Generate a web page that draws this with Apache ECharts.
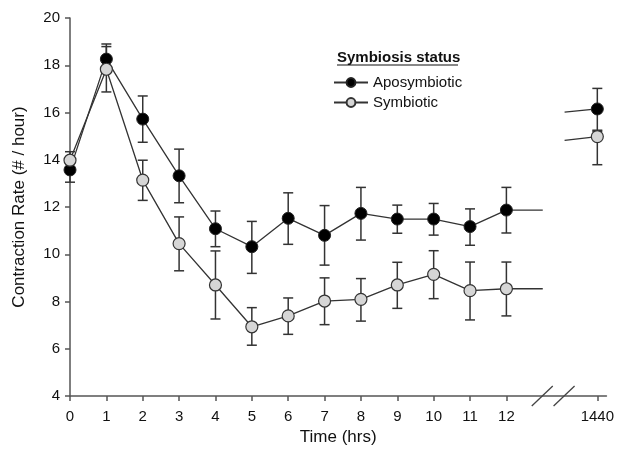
<!DOCTYPE html>
<html>
<head>
<meta charset="utf-8">
<script src="https://cdn.jsdelivr.net/npm/echarts@6/dist/echarts.min.js"></script>
<style>
	html, body { margin:0; padding:0; background:#fff; }
	#chart { width:617px; height:453px; }
</style>
</head>
<body>
<div id="chart"></div>
<script>
	// time points (hrs); 1440 sits after the axis break
	const hours = [0, 1, 2, 3, 4, 5, 6, 7, 8, 9, 10, 11, 12, 1440];
	const tickHours = [0, 1, 2, 3, 4, 5, 6, 7, 8, 9, 10, 11, 12, 1440];

	const apoMean = [13.57, 18.26, 15.72, 13.32, 11.08, 10.32, 11.52, 10.80, 11.73, 11.49, 11.49, 11.17, 11.87, 16.15];
	const apoLow  = [13.05, 17.70, 14.74, 12.18, 10.32, 9.19, 10.42, 9.54, 10.60, 10.89, 10.81, 10.38, 10.90, 15.25];
	const apoHigh = [14.10, 18.90, 16.70, 14.45, 11.83, 11.39, 12.60, 12.06, 12.83, 12.08, 12.15, 11.92, 12.83, 17.02];

	const symMean = [13.98, 17.83, 13.14, 10.45, 8.70, 6.93, 7.39, 8.02, 8.09, 8.70, 9.15, 8.46, 8.54, 14.98];
	const symLow  = [13.60, 16.87, 12.28, 9.30, 7.26, 6.15, 6.61, 7.02, 7.17, 7.71, 8.12, 7.22, 7.39, 13.79];
	const symHigh = [14.34, 18.79, 13.98, 11.58, 10.14, 7.74, 8.15, 9.00, 8.97, 9.66, 10.15, 9.67, 9.67, 15.20];

	// line stubs either side of the break (value where the stub meets the break)
	const apoStub = 16.02;
	const symStub = 14.82;

	const BREAK_AT = 14.5;     // axis position used for 1440
	const STUB_END = 13.0;     // left stub runs to here
	const STUB_START = 13.6;   // right stub starts here

	const pos = h => h <= 12 ? h : BREAK_AT;
	const FONT = 'Liberation Sans, Arial, sans-serif';
	const INK = '#333';

	let mainLine = (mean) => {
		let d = [];
		hours.forEach((h, i) => {
			if(h > 12){
				d.push(null);
			}
			d.push([pos(h), mean[i]]);
		});
		return d;
	};

	let stubs = (mean, stub) => {
		let last12 = mean[hours.indexOf(12)];
		let last = mean[mean.length - 1];
		return [[12, last12], [STUB_END, last12], null, [STUB_START, stub], [BREAK_AT, last]];
	};

	let errData = (low, high) => hours.map((h, i) => [pos(h), low[i], high[i]]);

	const renderErr = (params, api) => {
		let lo = api.coord([api.value(0), api.value(1)]);
		let hi = api.coord([api.value(0), api.value(2)]);
		let w = 5;
		let style = {stroke: INK, lineWidth: 1.5};
		return {
			type: 'group',
			children: [
				{type: 'line', shape: {x1: lo[0], y1: lo[1], x2: hi[0], y2: hi[1]}, style: style},
				{type: 'line', shape: {x1: lo[0] - w, y1: lo[1], x2: lo[0] + w, y2: lo[1]}, style: style},
				{type: 'line', shape: {x1: hi[0] - w, y1: hi[1], x2: hi[0] + w, y2: hi[1]}, style: style}
			]
		};
	};

	let chart = echarts.init(document.getElementById('chart'));
	let option = {
		animation: false,
		backgroundColor: '#fff',
		textStyle: {fontFamily: FONT},
		grid: {left: 70, right: 10, top: 18, bottom: 57},
		legend: {
			orient: 'vertical',
			left: 328,
			top: 70,
			itemWidth: 34,
			itemHeight: 11,
			itemGap: 5,
			data: ['Aposymbiotic', 'Symbiotic'],
			textStyle: {fontSize: 15, color: '#111', fontFamily: FONT}
		},
		xAxis: {
			type: 'value',
			min: 0,
			max: 14.75,
			name: 'Time (hrs)',
			nameLocation: 'middle',
			nameGap: 33,
			nameTextStyle: {fontSize: 17, color: '#111', fontFamily: FONT},
			axisLine: {lineStyle: {color: '#555', width: 1.5}},
			axisTick: {show: true, length: 5, lineStyle: {color: '#555', width: 1.5}, customValues: tickHours.map(pos)},
			axisLabel: {
				fontSize: 15,
				color: '#111',
				margin: 13,
				customValues: tickHours.map(pos),
				formatter: v => v > 12 ? '1440' : String(Math.round(v))
			},
			splitLine: {show: false}
		},
		yAxis: {
			type: 'value',
			min: 4,
			max: 20,
			interval: 2,
			name: 'Contraction Rate (# / hour)',
			nameLocation: 'middle',
			nameGap: 42,
			nameTextStyle: {fontSize: 17, color: '#111', fontFamily: FONT},
			axisLine: {show: true, lineStyle: {color: '#555', width: 1.5}},
			axisTick: {show: true, length: 5, lineStyle: {color: '#555', width: 1.5}},
			axisLabel: {fontSize: 15, color: '#111', margin: 10},
			splitLine: {show: false}
		},
		series: [
			{
				type: 'custom', name: 'apoErr', renderItem: renderErr, z: 1,
				encode: {x: 0, y: [1, 2]}, data: errData(apoLow, apoHigh), silent: true
			},
			{
				type: 'custom', name: 'symErr', renderItem: renderErr, z: 1,
				encode: {x: 0, y: [1, 2]}, data: errData(symLow, symHigh), silent: true
			},
			{
				type: 'line', name: 'apoStub', data: stubs(apoMean, apoStub), symbol: 'none', z: 2,
				lineStyle: {color: INK, width: 1.3}, silent: true
			},
			{
				type: 'line', name: 'symStub', data: stubs(symMean, symStub), symbol: 'none', z: 2,
				lineStyle: {color: INK, width: 1.3}, silent: true
			},
			{
				type: 'line', name: 'Aposymbiotic', data: mainLine(apoMean), z: 3,
				symbol: 'circle', symbolSize: 12, showAllSymbol: true,
				lineStyle: {color: INK, width: 1.3},
				itemStyle: {color: '#000', borderColor: '#222', borderWidth: 1}
			},
			{
				type: 'line', name: 'Symbiotic', data: mainLine(symMean), z: 3,
				symbol: 'circle', symbolSize: 12, showAllSymbol: true,
				lineStyle: {color: INK, width: 1.3},
				itemStyle: {color: '#d6d6d6', borderColor: '#333', borderWidth: 1.2}
			}
		]
	};
	chart.setOption(option);

	// legend title (underlined) and the axis break marks
	let yBase = chart.convertToPixel({yAxisIndex: 0}, 4);
	let b1 = chart.convertToPixel({xAxisIndex: 0}, STUB_END);
	let b2 = chart.convertToPixel({xAxisIndex: 0}, STUB_START);
	let slash = x => ({
		type: 'line',
		shape: {x1: x - 11, y1: yBase + 10, x2: x + 10, y2: yBase - 10},
		style: {stroke: '#444', lineWidth: 1.3},
		z: 10
	});
	chart.setOption({
		graphic: [
			{
				type: 'text', left: 337, top: 50, z: 10,
				style: {text: 'Symbiosis status', fontSize: 15, fontWeight: 'bold', fill: '#111', fontFamily: FONT}
			},
			{
				type: 'line', z: 10,
				shape: {x1: 337, y1: 65, x2: 458, y2: 65},
				style: {stroke: '#111', lineWidth: 1.2}
			},
			slash(b1),
			slash(b2)
		]
	});
</script>
</body>
</html>
